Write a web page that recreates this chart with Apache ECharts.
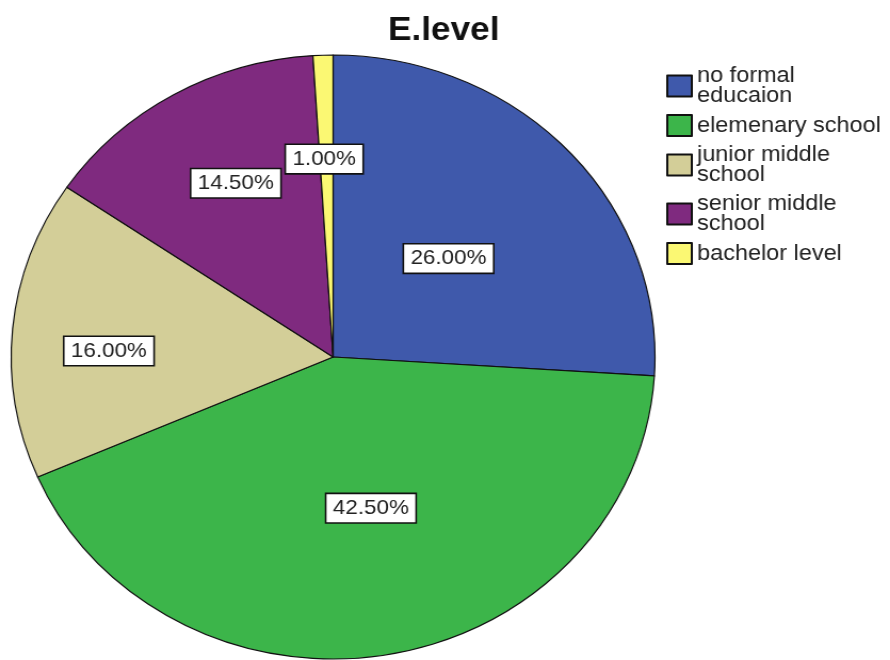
<!DOCTYPE html>
<html>
<head>
<meta charset="utf-8">
<script src="https://cdn.jsdelivr.net/npm/echarts@6/dist/echarts.min.js"></script>
<style>
  html, body { margin: 0; padding: 0; background: #fff; overflow: hidden; }
  /* the chart is drawn slightly wider than tall, as in the original export */
  #chart { width: 835px; height: 660px; transform: scaleX(1.0659); transform-origin: 0 0; }
</style>
</head>
<body>
<div id="chart"></div>
<script>
// Education level shares (percent of respondents)
const categories = [
  'no formal\neducaion',
  'elemenary school',
  'junior middle\nschool',
  'senior middle\nschool',
  'bachelor level'
];
const shares = [26.0, 42.5, 16.0, 14.5, 1.0];
const sliceColors = ['#3f59ab', '#3cb54a', '#d3ce98', '#7f2a7f', '#fbf873'];

// nudge of each value box away from its default spot inside the slice (px)
const LABEL_NUDGE = [[-4, 7], [9, -0.5], [-57, 8.5], [-15, -40], [-3.5, -44]];

const PIE_CENTER = [312.5, 357];
const PIE_R = 302;

const chart = echarts.init(document.getElementById('chart'), null, { renderer: 'canvas' });

const FONT = '"Liberation Sans", Arial, sans-serif';

chart.setOption({
  animation: false,
  backgroundColor: '#ffffff',
  title: {
    text: 'E.level',
    left: 359,
    top: 9,
    textStyle: { fontFamily: FONT, fontSize: 33, fontWeight: 'bold', color: '#111' }
  },
  legend: {
    orient: 'vertical',
    left: 620,
    top: 60,
    itemWidth: 23,
    itemHeight: 21,
    itemGap: 7,
    icon: 'rect',
    selectedMode: false,
    textStyle: { fontFamily: FONT, fontSize: 22, lineHeight: 20, color: '#222' },
    data: categories
  },
  series: [{
    type: 'pie',
    center: PIE_CENTER,
    radius: PIE_R,
    startAngle: 90,
    clockwise: true,
    avoidLabelOverlap: false,
    itemStyle: { borderColor: '#111', borderWidth: 1.2 },
    label: {
      show: true,
      position: 'inside',
      formatter: p => p.value.toFixed(2) + '%',
      fontFamily: FONT,
      fontSize: 21,
      color: '#222',
      backgroundColor: '#ffffff',
      borderColor: '#111',
      borderWidth: 1.6,
      padding: [4, 6, 3, 6]
    },
    labelLine: { show: false },
    emphasis: { disabled: true },
    labelLayout: function (params) {
      const n = LABEL_NUDGE[params.dataIndex];
      return { dx: n[0], dy: n[1] };
    },
    data: categories.map((name, i) => ({
      name: name,
      value: shares[i],
      itemStyle: { color: sliceColors[i] }
    }))
  }]
});
</script>
</body>
</html>
